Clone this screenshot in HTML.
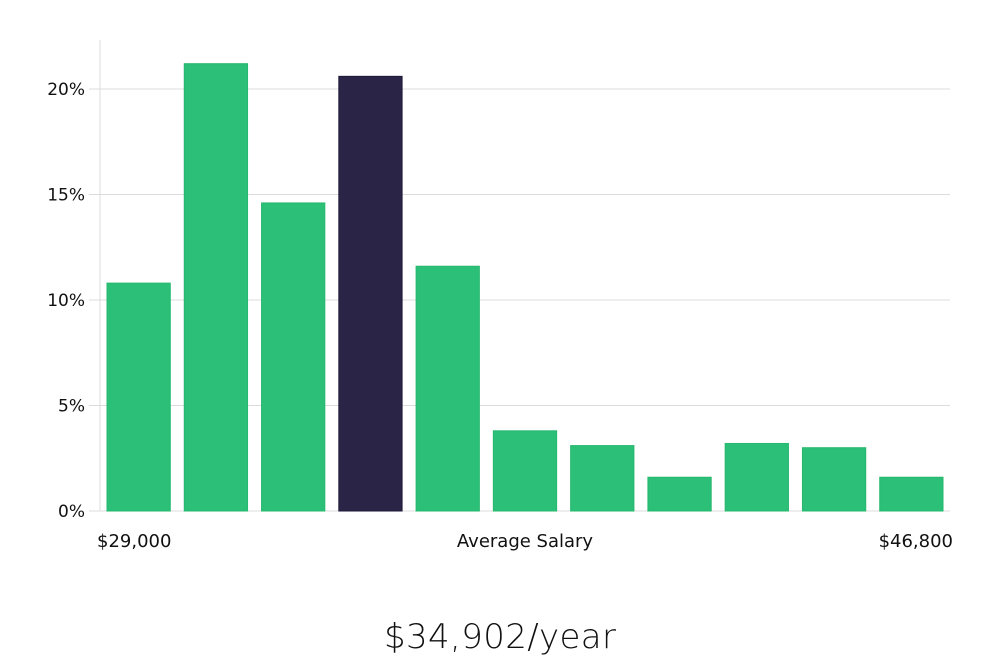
<!DOCTYPE html>
<html><head><meta charset="utf-8"><style>
body{margin:0;background:#fff;width:1000px;height:660px;overflow:hidden;font-family:"DejaVu Sans","Liberation Sans",sans-serif}
</style></head><body>
<svg width="1000" height="660" id="chart">
<text x="500" y="648" text-anchor="middle" font-size="34" font-family="'DejaVu Sans',sans-serif" font-weight="300" fill="#111" textLength="232">$34,902/year</text>
</svg>
<script>
const categories=["b1","b2","b3","b4","b5","b6","b7","b8","b9","b10","b11"];
const values=[10.8,21.2,14.6,20.6,11.6,3.8,3.1,1.6,3.2,3.0,1.6];
const highlightIndex=3;
const yTicks=[0,5,10,15,20];
const xLabels=["$29,000","Average Salary","$46,800"];
const svg=document.getElementById('chart');
const NS='http://www.w3.org/2000/svg';
const x0=100,x1=950,y0=511,yTop=89;
const y=v=>y0-(v/20)*(y0-yTop);
const band=(x1-x0)/categories.length;
const bx=i=>x0+i*band+7;
function mk(t,a){const e=document.createElementNS(NS,t);for(const k in a)e.setAttribute(k,a[k]);svg.appendChild(e);return e;}
yTicks.forEach(t=>{
 const g=mk('line',{x1:89,x2:x1,y1:y(t),y2:y(t),stroke:'#dcdcdc','stroke-width':1});
 
 
 const l=mk('text',{x:85,y:y(t)+6,'text-anchor':'end','font-size':17,fill:'#111'});
 l.textContent=t+'%';
 
 
});
const ax=mk('line',{x1:100,x2:100,y1:40,y2:y0,stroke:'#dcdcdc','stroke-width':1});


values.forEach((v,i)=>{
 const hi=i===highlightIndex;
 const r=mk('rect',{x:bx(i),y:y(v),width:band-14,height:y0-y(v),fill:hi?'#2a2547':'#2bbf77',stroke:hi?'#1d1a3a':'#26b86e','stroke-width':1});
 
 
});
const xl=[[97,'start'],[525,'middle'],[953,'end']];
xLabels.forEach((s,i)=>{
 const t=mk('text',{x:xl[i][0],y:547,'text-anchor':xl[i][1],'font-size':18,fill:'#111'});
 t.textContent=s;
 
 
});
</script>
</body></html>
